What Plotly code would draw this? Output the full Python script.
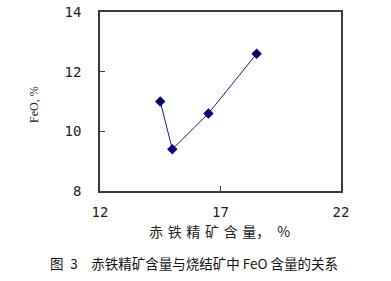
import plotly.graph_objects as go

x_vals = [14.5, 15.0, 16.5, 18.5]
y_vals = [11.0, 9.4, 10.6, 12.6]
x_ticks = [12, 17, 22]
y_ticks = [8, 10, 12, 14]

fig = go.Figure()
fig.add_trace(go.Scatter(
    x=x_vals, y=y_vals, mode="lines+markers",
    line=dict(color="#1a1a80", width=1),
    marker=dict(symbol="diamond", size=8, color="#000070"),
    showlegend=False,
))

axis_common = dict(
    showline=True, linecolor="#3a3a3a", linewidth=1.6, mirror=True,
    ticks="inside", ticklen=5, tickcolor="#3a3a3a", showgrid=False, zeroline=False,
    automargin=False,
    tickfont=dict(family="DejaVu Sans Mono", size=14, color="#222222"),
)

fig.update_layout(
    width=391, height=281,
    margin=dict(l=100, r=50, t=12, b=90),
    paper_bgcolor="white", plot_bgcolor="white",
    xaxis=dict(range=[12, 22], tickvals=x_ticks, ticklabelstandoff=7, **axis_common),
    yaxis=dict(range=[8, 14], tickvals=y_ticks, ticklabelstandoff=14, **axis_common),
    annotations=[
        dict(text="FeO, %", xref="paper", yref="paper", x=-0.274, y=0.486,
             textangle=-90, showarrow=False, xanchor="center", yanchor="middle",
             font=dict(family="Liberation Serif", size=12, color="#222222")),
        dict(text="赤\u2004铁\u2004精\u2004矿\u2004含\u2004量，\u2002%", xref="paper", yref="paper",
             x=0.494, y=-0.225, showarrow=False, xanchor="center", yanchor="middle",
             font=dict(family="Noto Sans CJK SC", size=14, color="#222222")),
        dict(text="图\u20023\u2003赤铁精矿含量与烧结矿中 FeO 含量的关系", xref="paper", yref="paper",
             x=0.392, y=-0.402, showarrow=False, xanchor="center", yanchor="middle",
             font=dict(family="Noto Sans CJK SC", size=13.5, color="#111111")),
    ],
)

fig.write_html("out.html")
